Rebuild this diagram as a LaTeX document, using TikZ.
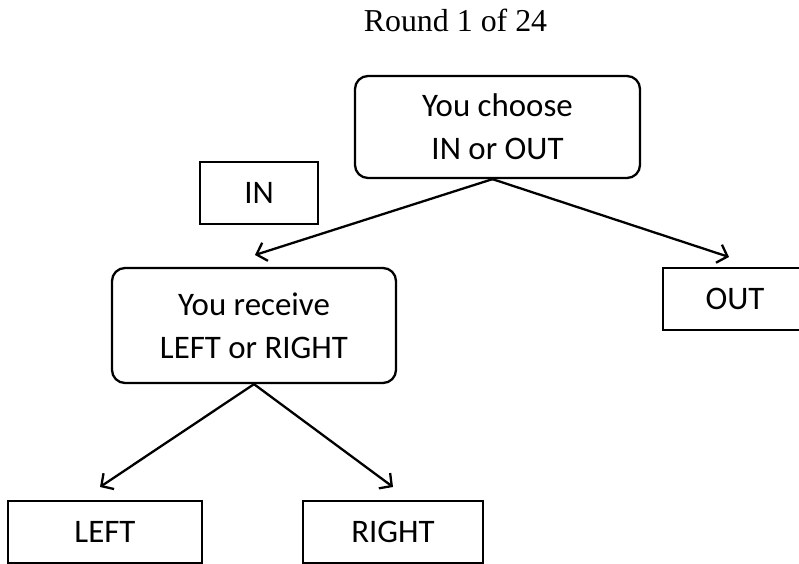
\documentclass[tikz,border=0pt]{standalone}
\usepackage{fontspec}
\setmainfont{Carlito}
\newfontfamily\titlefont{Liberation Serif}
\usetikzlibrary{arrows.meta}
\tikzset{
  boxtext/.style={font=\fontsize{33}{43}\selectfont, align=center, inner sep=0pt, line width=2.3bp, draw=black},
  roundbox/.style={boxtext, rounded corners=13bp},
  plainbox/.style={boxtext},
  conn/.style={line width=2.3bp, -{Straight Barb[length=9bp,width=19bp,line width=2.3bp]}}
}
\begin{document}
\begin{tikzpicture}[x=1bp,y=-1bp]
\useasboundingbox (0,0) rectangle (799,564);
\node[font=\titlefont\fontsize{32}{38}\selectfont, anchor=base] (title) at (455.5,32) {Round 1 of 24};
\node[roundbox, minimum width=285bp, minimum height=102bp] (top) at (497.5,127) {You choose\\IN or OUT};
\node[plainbox, minimum width=118bp, minimum height=62bp] (in) at (259,193) {IN};
\node[roundbox, minimum width=284bp, minimum height=115bp] (mid) at (254,325.5) {You receive\\LEFT or RIGHT};
\node[plainbox, minimum width=144bp, minimum height=62bp] (out) at (735,299) {OUT};
\node[plainbox, minimum width=194bp, minimum height=62bp] (left) at (105,532) {LEFT};
\node[plainbox, minimum width=180bp, minimum height=62bp] (right) at (393,532) {RIGHT};
\coordinate (intip) at (255,255);
\coordinate (outtip) at (729,257);
\coordinate (lefttip) at (100,487);
\coordinate (righttip) at (393,487);
\draw[conn] ([xshift=-5bp]top.south) -- (intip);
\draw[conn] ([xshift=-5bp]top.south) -- (outtip);
\draw[conn] (mid.south) -- (lefttip);
\draw[conn] (mid.south) -- (righttip);
\end{tikzpicture}
\end{document}
